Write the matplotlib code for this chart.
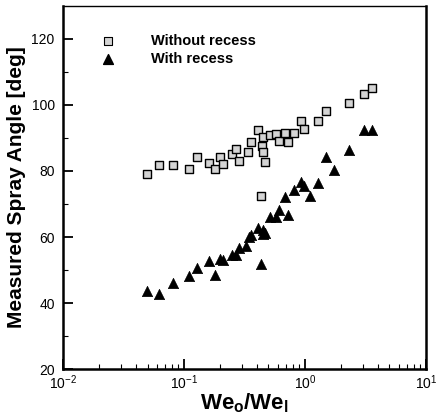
import matplotlib.pyplot as plt
import numpy as np
from matplotlib import font_manager

plt.rcParams['font.family'] = ['Liberation Sans', 'DejaVu Sans']

# Without recess (squares)
we_sq = [0.0494, 0.0625, 0.0805, 0.111, 0.129, 0.161, 0.180, 0.1995, 0.210, 0.248,
         0.272, 0.287, 0.338, 0.358, 0.411, 0.447, 0.444, 0.447, 0.470, 0.436,
         0.516, 0.579, 0.614, 0.679, 0.720, 0.806, 0.933, 0.987, 1.29, 1.49,
         2.34, 3.09, 3.60]
ang_sq = [79.2, 81.8, 81.8, 80.7, 84.3, 82.4, 80.5, 84.3, 82.1, 85.0,
          86.8, 83.1, 85.8, 88.9, 92.5, 90.4, 87.6, 85.8, 82.6, 72.4,
          91.0, 91.1, 89.0, 91.5, 88.9, 91.5, 95.1, 92.8, 95.1, 98.1,
          100.6, 103.2, 105.0]

# With recess (triangles)
we_tri = [0.0494, 0.0625, 0.0805, 0.111, 0.129, 0.161, 0.180, 0.1995, 0.210, 0.248,
          0.272, 0.287, 0.327, 0.344, 0.358, 0.411, 0.447, 0.447, 0.470, 0.436,
          0.516, 0.579, 0.614, 0.679, 0.720, 0.806, 0.933, 0.987, 1.107, 1.29,
          1.49, 1.73, 2.34, 3.09, 3.60]
ang_tri = [43.8, 42.6, 46.0, 48.2, 50.5, 52.6, 48.4, 53.3, 53.0, 54.5,
           54.5, 56.7, 57.4, 60.1, 60.5, 62.8, 62.2, 61.0, 61.2, 51.9,
           66.0, 66.1, 68.1, 72.1, 66.8, 74.2, 76.6, 75.4, 72.4, 76.4,
           84.3, 80.3, 86.3, 92.5, 92.5]

names = {f.name for f in font_manager.fontManager.ttflist}
tick_font = 'Liberation Sans Narrow' if 'Liberation Sans Narrow' in names else 'Liberation Sans'

fig = plt.figure(figsize=(4.36, 4.18), dpi=100)
ax = fig.add_axes([0.1445, 0.117, 0.832, 0.869])

ax.scatter(we_sq, ang_sq, marker='s', s=40, facecolor='#d4d4d4',
           edgecolor='black', linewidth=1.0, zorder=3)
ax.scatter(we_tri, ang_tri, marker='^', s=55, facecolor='black',
           edgecolor='black', linewidth=0.5, zorder=3)

ax.set_xscale('log')
ax.set_xlim(1e-2, 1e1)
ax.set_ylim(20, 130)
ax.set_yticks([20, 40, 60, 80, 100, 120])
ax.set_yticks(np.arange(30, 130, 20), minor=True)
ax.tick_params(which='both', direction='in', labelsize=10)
ax.tick_params(which='major', length=7, width=1.3)
ax.tick_params(which='minor', length=3.5, width=0.8)
ax.tick_params(axis='y', pad=6)
ax.tick_params(axis='x', pad=3)
for lab in ax.get_xticklabels() + ax.get_yticklabels():
    lab.set_fontfamily(tick_font)

for s in ['left', 'bottom', 'right']:
    ax.spines[s].set_linewidth(1.8)
ax.spines['top'].set_linewidth(1.0)

ax.set_xlabel(r'We$_\mathregular{o}$/We$_\mathregular{l}$', fontsize=16,
              fontweight='bold', labelpad=0)
ax.set_ylabel('Measured Spray Angle [deg]', fontsize=15, fontweight='bold',
              labelpad=4)

# legend drawn manually like the original
ax.scatter([0.0237], [119.4], marker='s', s=30, facecolor='#d4d4d4',
           edgecolor='black', linewidth=0.8, zorder=3)
ax.scatter([0.0237], [113.9], marker='^', s=50, facecolor='black', zorder=3)
ax.text(0.0535, 119.4, 'Without recess', fontsize=10.5, fontweight='bold',
        va='center', ha='left')
ax.text(0.0535, 113.9, 'With recess', fontsize=10.5, fontweight='bold',
        va='center', ha='left')

fig.savefig('out.png', dpi=100)
